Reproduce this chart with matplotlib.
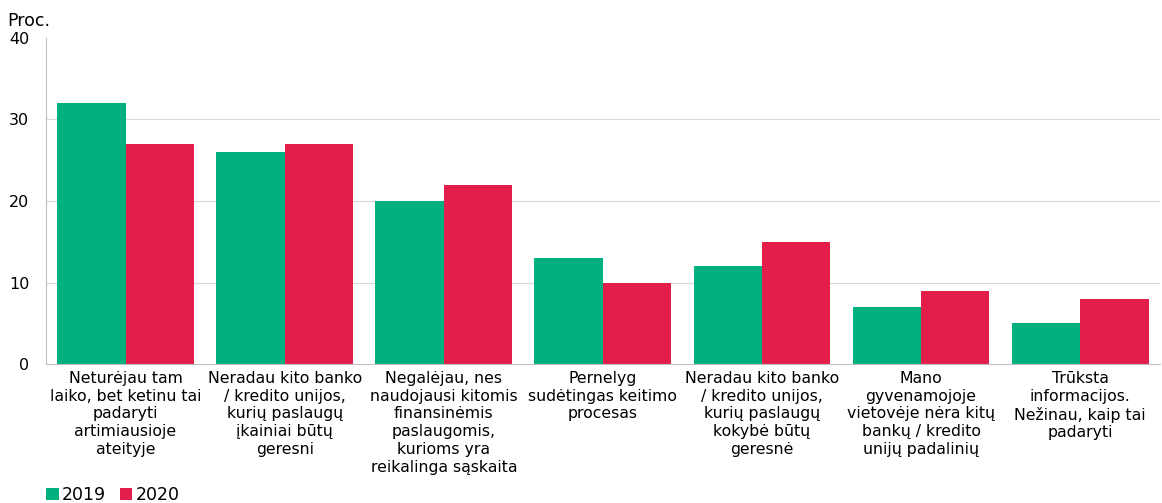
import numpy as np
import matplotlib.pyplot as plt

# survey reasons (Lithuanian), values in percent
categories = [
    "Neturėjau tam\nlaiko, bet ketinu tai\npadaryti\nartimiausioje\nateityje",
    "Neradau kito banko\n/ kredito unijos,\nkurių paslaugų\nįkainiai būtų\ngeresni",
    "Negalėjau, nes\nnaudojausi kitomis\nfinansinėmis\npaslaugomis,\nkurioms yra\nreikalinga sąskaita",
    "Pernelyg\nsudėtingas keitimo\nprocesas",
    "Neradau kito banko\n/ kredito unijos,\nkurių paslaugų\nkokybė būtų\ngeresnė",
    "Mano\ngyvenamojoje\nvietovėje nėra kitų\nbankų / kredito\nunijų padalinių",
    "Trūksta\ninformacijos.\nNežinau, kaip tai\npadaryti",
]
vals_2019 = [32, 26, 20, 13, 12, 7, 5]
vals_2020 = [27, 27, 22, 10, 15, 9, 8]
yticks = [0, 10, 20, 30, 40]

green = "#00B07F"
red = "#E31E4B"

fig = plt.figure(figsize=(11.62, 5.03), dpi=100)
ax = fig.add_axes([0.0396, 0.2763, 0.9584, 0.6482])

x = np.arange(len(categories))
w = 0.43
ax.bar(x - w/2, vals_2019, w, color=green, label="2019")
ax.bar(x + w/2, vals_2020, w, color=red, label="2020")

ax.set_xlim(-0.5, len(categories) - 0.5)
ax.set_ylim(0, 40)
ax.set_yticks(yticks)
ax.set_yticklabels([str(t) for t in yticks], fontsize=11.5)
for t in yticks[1:-1]:
    ax.axhline(t, color="#d9d9d9", lw=0.8, zorder=0)

ax.set_xticks(x)
ax.set_xticklabels(categories, fontsize=11.3, linespacing=1.23, va="top")
ax.tick_params(axis="both", length=0)
ax.tick_params(axis="x", pad=5)
ax.tick_params(axis="y", pad=12)

for s in ["top", "right"]:
    ax.spines[s].set_visible(False)
for s in ["left", "bottom"]:
    ax.spines[s].set_color("#bfbfbf")

fig.text(0.006, 0.948, "Proc.", fontsize=12.5)

fig.legend(loc="lower left", bbox_to_anchor=(0.034, -0.016), ncol=2, frameon=False,
           fontsize=12.5, handlelength=0.7, handleheight=0.7, handletextpad=0.2,
           columnspacing=0.8, borderaxespad=0)

fig.savefig("out.png", dpi=100)
